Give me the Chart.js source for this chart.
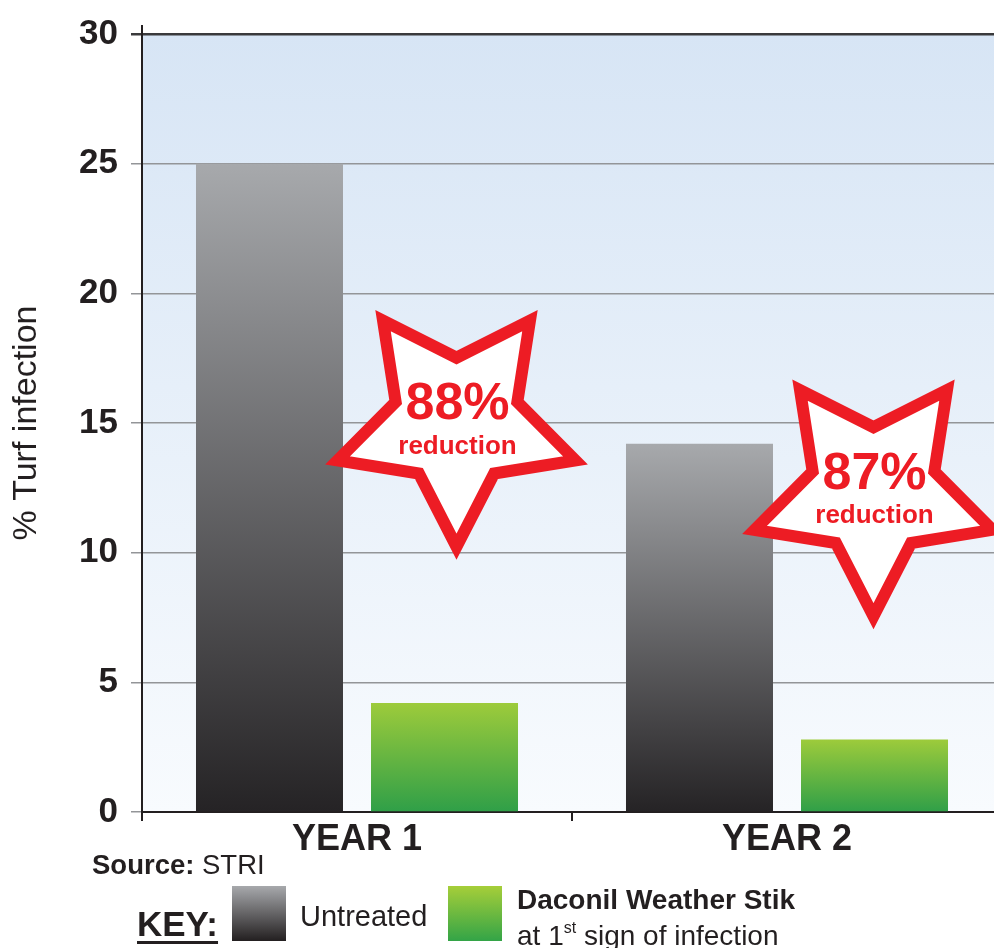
<!DOCTYPE html>
<html>
<head>
<meta charset="utf-8">
<script src="https://cdn.jsdelivr.net/npm/chart.js@4.4.1/dist/chart.umd.min.js"></script>
<style>
  html, body { margin: 0; padding: 0; background: #fff; overflow: hidden; }
  body { width: 994px; height: 948px; position: relative; font-family: "Liberation Sans", Arial, sans-serif; color: #231f20; }
  .wrap { position: absolute; left: 0; top: 0; width: 1002px; height: 948px; }
  .txt { position: absolute; line-height: 1; white-space: nowrap; }
  .sw { position: absolute; width: 54px; height: 55px; }
  sup { font-size: 16px; vertical-align: 0; position: relative; top: -12px; }
</style>
</head>
<body>
<div class="wrap"><canvas id="turfChart"></canvas></div>

<div class="txt" style="left:92px; top:851px; font-size:27.5px;"><b>Source:</b> STRI</div>
<div class="txt" style="left:137px; top:906px; font-size:35px; font-weight:bold; text-decoration:underline; text-underline-offset:5px;">KEY:</div>
<div class="sw" style="left:232px; top:886px; background:linear-gradient(#a7a9ac,#231f20);"></div>
<div class="txt" style="left:300px; top:902px; font-size:29px;">Untreated</div>
<div class="sw" style="left:448px; top:886px; background:linear-gradient(#a6ce39,#33a447);"></div>
<div class="txt" style="left:517px; top:886px; font-size:28px; font-weight:bold;">Daconil Weather Stik</div>
<div class="txt" style="left:517px; top:922px; font-size:28px;">at 1<sup>st</sup> sign of infection</div>

<script>
const years = ['YEAR 1', 'YEAR 2'];
const untreated = [25, 14.2];
const daconil = [4.2, 2.8];
const yTicks = [0, 5, 10, 15, 20, 25, 30];
const reductions = ['88%', '87%'];

// where the stars sit: y in data units, dx in px from the green bar
const starAt = [{ y: 15.05, dx: 12 }, { y: 12.37, dx: -1 }];

const ink = '#231f20';
const red = '#ed1c24';

function barFill(top, bottom) {
  return function(c) {
    const chart = c.chart;
    if (!chart.chartArea || c.type !== 'data') return bottom;
    const y = chart.scales.y;
    const g = chart.ctx.createLinearGradient(0, y.getPixelForValue(c.raw), 0, y.getPixelForValue(0));
    g.addColorStop(0, top);
    g.addColorStop(1, bottom);
    return g;
  };
}

const backdrop = {
  id: 'backdrop',
  beforeDraw(chart) {
    const a = chart.chartArea;
    const ctx = chart.ctx;
    const g = ctx.createLinearGradient(0, a.top, 0, a.bottom);
    g.addColorStop(0, '#d7e5f5');
    g.addColorStop(1, '#f8fbfe');
    ctx.save();
    ctx.fillStyle = g;
    ctx.fillRect(a.left, a.top, a.right - a.left, a.bottom - a.top);
    ctx.restore();
  },
  afterDraw(chart) {
    // little overshoot of the y axis above the top line
    const a = chart.chartArea;
    const ctx = chart.ctx;
    ctx.save();
    ctx.strokeStyle = ink;
    ctx.lineWidth = 2;
    ctx.beginPath();
    ctx.moveTo(a.left, a.top - 9);
    ctx.lineTo(a.left, a.top);
    ctx.stroke();
    ctx.restore();
  }
};

const stars = {
  id: 'stars',
  afterDatasetsDraw(chart) {
    const ctx = chart.ctx;
    const bars = chart.getDatasetMeta(1).data;
    const y = chart.scales.y;
    reductions.forEach(function(label, i) {
      const cx = bars[i].x + starAt[i].dx;
      const cy = y.getPixelForValue(starAt[i].y);
      const R = 125, r = 64;
      ctx.save();
      ctx.beginPath();
      for (let k = 0; k < 10; k++) {
        const ang = Math.PI / 2 + k * Math.PI / 5;
        const rad = k % 2 === 0 ? R : r;
        const px = cx + rad * Math.cos(ang);
        const py = cy + rad * Math.sin(ang);
        if (k === 0) ctx.moveTo(px, py); else ctx.lineTo(px, py);
      }
      ctx.closePath();
      ctx.fillStyle = '#ffffff';
      ctx.fill();
      ctx.lineJoin = 'miter';
      ctx.miterLimit = 10;
      ctx.lineWidth = 12;
      ctx.strokeStyle = red;
      ctx.stroke();

      ctx.fillStyle = red;
      ctx.textAlign = 'center';
      ctx.textBaseline = 'middle';
      ctx.font = 'bold 52px "Liberation Sans", Arial, sans-serif';
      ctx.fillText(label, cx + 1, cy - 17);
      ctx.font = 'bold 26px "Liberation Sans", Arial, sans-serif';
      ctx.fillText('reduction', cx + 1, cy + 25);
      ctx.restore();
    });
  }
};

document.addEventListener('DOMContentLoaded', function() {
  Chart.defaults.font.family = '"Liberation Sans", Arial, sans-serif';
  Chart.defaults.color = ink;

  const ctx = document.getElementById('turfChart').getContext('2d');
  new Chart(ctx, {
    type: 'bar',
    data: {
      labels: years,
      datasets: [{
        label: 'Untreated',
        data: untreated,
        backgroundColor: barFill('#a7a9ac', '#252325')
      }, {
        label: 'Daconil Weather Stik',
        data: daconil,
        backgroundColor: barFill('#9dcb3b', '#2f9f48')
      }]
    },
    options: {
      responsive: true,
      maintainAspectRatio: false,
      animation: false,
      layout: { padding: { top: 32, left: 0, right: 0, bottom: 0 } },
      datasets: {
        bar: { categoryPercentage: 0.814, barPercentage: 0.84 }
      },
      plugins: {
        legend: { display: false },
        tooltip: { enabled: false }
      },
      scales: {
        x: {
          afterFit: function(s) { s.height = 136; },
          grid: {
            offset: true,
            drawOnChartArea: false,
            drawTicks: true,
            tickLength: 9,
            color: ink,
            lineWidth: 2
          },
          border: { display: true, color: ink, width: 2 },
          ticks: {
            padding: -3,
            color: ink,
            font: { size: 36, weight: 'bold' }
          }
        },
        y: {
          min: 0,
          max: 30,
          afterFit: function(s) { s.width = 142; },
          afterBuildTicks: function(s) { s.ticks = yTicks.map(function(v) { return { value: v }; }); },
          grid: {
            color: function(c) { return c.tick && c.tick.value === 30 ? '#3a3a3c' : '#939598'; },
            lineWidth: function(c) { return c.tick && c.tick.value === 30 ? 2.5 : 1.5; },
            tickLength: 11,
            drawTicks: true
          },
          border: { display: true, color: ink, width: 2 },
          ticks: {
            padding: 13,
            color: ink,
            font: { size: 35, weight: 'bold' }
          },
          title: {
            display: true,
            text: '% Turf infection',
            color: ink,
            padding: { top: 6, bottom: 0 },
            font: { size: 34, weight: 'normal' }
          }
        }
      }
    },
    plugins: [backdrop, stars]
  });
});
</script>
</body>
</html>
